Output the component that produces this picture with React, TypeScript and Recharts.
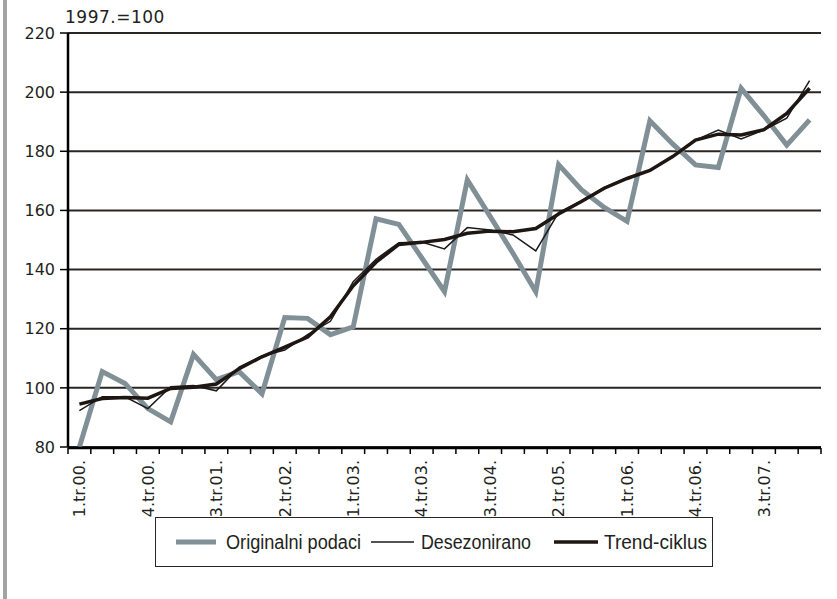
import React from "react";
import { LineChart, Line, XAxis, YAxis, CartesianGrid } from "recharts";

// kvartali 1.tr.00. - 1.tr.08.
const quarters = [
  "1.tr.00.", "2.tr.00.", "3.tr.00.", "4.tr.00.",
  "1.tr.01.", "2.tr.01.", "3.tr.01.", "4.tr.01.",
  "1.tr.02.", "2.tr.02.", "3.tr.02.", "4.tr.02.",
  "1.tr.03.", "2.tr.03.", "3.tr.03.", "4.tr.03.",
  "1.tr.04.", "2.tr.04.", "3.tr.04.", "4.tr.04.",
  "1.tr.05.", "2.tr.05.", "3.tr.05.", "4.tr.05.",
  "1.tr.06.", "2.tr.06.", "3.tr.06.", "4.tr.06.",
  "1.tr.07.", "2.tr.07.", "3.tr.07.", "4.tr.07.",
  "1.tr.08.",
];

// which quarters get a label on the x axis
const labelledQuarters = [0, 3, 6, 9, 12, 15, 18, 21, 24, 27, 30];

const yTicks = [80, 100, 120, 140, 160, 180, 200, 220];

const originalni = [
  80, 105.5, 101.5, 93, 88.5, 111.3, 102.8, 105.5, 98, 123.8, 123.5, 118, 120.6,
  157.2, 155.3, 144, 132.5, 170.3, 158, 145.5, 132.5, 175.5, 167, 161, 156.3,
  190.3, 182.5, 175.4, 174.5, 201.3, 192, 182.1, 190.6,
];

const desezonirano = [
  92.3, 97, 97, 93, 100.4, 100.8, 99, 107, 110.8, 112.8, 118, 122.5, 135.9,
  143.5, 149.1, 149.3, 147, 154.2, 153.4, 151.7, 146.3, 159.3, 163.2, 167.8, 171,
  173.5, 178.2, 183.8, 187.2, 184.2, 187.2, 191.2, 203.9,
];

const trendCiklus = [
  94.5, 96.4, 96.7, 96.5, 99.8, 100.2, 101.3, 106.5, 110.5, 113.8, 117.2, 124,
  134.5, 142.5, 148.5, 149.2, 150.2, 152.3, 153, 152.8, 153.9, 158.8, 163, 167.5,
  170.8, 173.5, 178.2, 183.8, 185.8, 185.5, 187.3, 192.8, 201.3,
];

const series = [
  { key: "orig", name: "Originalni podaci", color: "#818f96", width: 5 },
  { key: "des", name: "Desezonirano", color: "#1a1a1a", width: 1.5 },
  { key: "trend", name: "Trend-ciklus", color: "#1e1612", width: 3.5 },
];

const data = quarters.map((q, i) => ({
  i,
  q,
  orig: originalni[i],
  des: desezonirano[i],
  trend: trendCiklus[i],
}));

const boundaryTicks = quarters.map((_, i) => i - 0.5).concat(quarters.length - 0.5);
const xDomain = [-0.5, quarters.length - 0.5];

const tickFont = "'DejaVu Sans', 'Liberation Sans', sans-serif";
const legendFont = "'Liberation Sans Narrow', 'Liberation Sans', Arial, sans-serif";
const ink = "#231f20";

const QuarterTick = (props: any) => {
  const { x, y, payload } = props;
  return (
    <g transform={`translate(${x},${y})`}>
      <text
        transform="rotate(-90)"
        textAnchor="end"
        dy="0.36em"
        fontFamily={tickFont}
        fontSize={16}
        fill={ink}
      >
        {quarters[payload.value]}
      </text>
    </g>
  );
};

const NoLabel = () => <g />;

// legend layout inside the box
const legendItems = [
  { lineFrom: 20, lineTo: 60, textX: 70, textW: 135 },
  { lineFrom: 215, lineTo: 258, textX: 265, textW: 110 },
  { lineFrom: 398, lineTo: 442, textX: 448, textW: 103 },
];

export default function App() {
  return (
    <div
      style={{
        position: "absolute",
        left: 0,
        top: 0,
        width: 837,
        height: 599,
        background: "#fff",
      }}
    >
      <div
        style={{
          position: "absolute",
          left: 3,
          top: 0,
          width: 4,
          height: 599,
          background: "#a3a3a3",
        }}
      />
      <div
        style={{
          position: "absolute",
          left: 65,
          top: 7,
          fontFamily: tickFont,
          fontSize: 17,
          letterSpacing: 0.5,
          color: ink,
          lineHeight: "20px",
        }}
      >
        1997.=100
      </div>

      <LineChart
        width={837}
        height={599}
        data={data}
        margin={{ top: 33, right: 16, bottom: 150, left: 0 }}
      >
        <CartesianGrid
          vertical={false}
          stroke="#2a2523"
          strokeWidth={2}
          yAxisId="l"
          xAxisId="lab"
        />
        {/* two thin x axes stacked on the plot bottom: boundary marks + labels */}
        <XAxis
          xAxisId="marks"
          type="number"
          dataKey="i"
          domain={xDomain}
          allowDataOverflow
          ticks={boundaryTicks}
          tick={NoLabel}
          interval={0}
          height={1}
          tickSize={6}
          tickMargin={0}
          tickLine={{ stroke: "#000", strokeWidth: 1.5 }}
          axisLine={{ stroke: "#000", strokeWidth: 2.5 }}
        />
        <XAxis
          xAxisId="lab"
          type="number"
          dataKey="i"
          domain={xDomain}
          allowDataOverflow
          ticks={labelledQuarters}
          tick={<QuarterTick />}
          tickLine={false}
          axisLine={false}
          tickSize={0}
          tickMargin={13}
          height={1}
          interval={0}
        />
        <YAxis
          yAxisId="l"
          domain={[80, 220]}
          ticks={yTicks}
          width={68}
          tickSize={8}
          tickMargin={5}
          interval={0}
          tick={{ fontFamily: tickFont, fontSize: 16, fill: ink }}
          tickLine={{ stroke: "#000", strokeWidth: 1.5 }}
          axisLine={{ stroke: "#000", strokeWidth: 2.5 }}
        />
        <YAxis
          yAxisId="r"
          orientation="right"
          domain={[80, 220]}
          width={0}
          tick={false}
          tickLine={false}
          axisLine={{ stroke: "#000", strokeWidth: 2.5 }}
        />
        {series.map((s) => (
          <Line
            key={s.key}
            xAxisId="lab"
            yAxisId="l"
            type="linear"
            dataKey={s.key}
            name={s.name}
            stroke={s.color}
            strokeWidth={s.width}
            dot={false}
            activeDot={false}
            isAnimationActive={false}
          />
        ))}
      </LineChart>

      <div
        style={{
          position: "absolute",
          left: 155,
          top: 517,
          width: 556,
          height: 48,
          border: "1px solid #2a2523",
        }}
      >
        <svg width={556} height={48}>
          {series.map((s, k) => {
            const it = legendItems[k];
            return (
              <g key={s.key}>
                <line
                  x1={it.lineFrom}
                  x2={it.lineTo}
                  y1={24}
                  y2={24}
                  stroke={s.color}
                  strokeWidth={s.width}
                />
                <text
                  x={it.textX}
                  y={31}
                  fontFamily={legendFont}
                  fontSize={20}
                  fill={ink}
                  textLength={it.textW}
                  lengthAdjust="spacingAndGlyphs"
                >
                  {s.name}
                </text>
              </g>
            );
          })}
        </svg>
      </div>
    </div>
  );
}
